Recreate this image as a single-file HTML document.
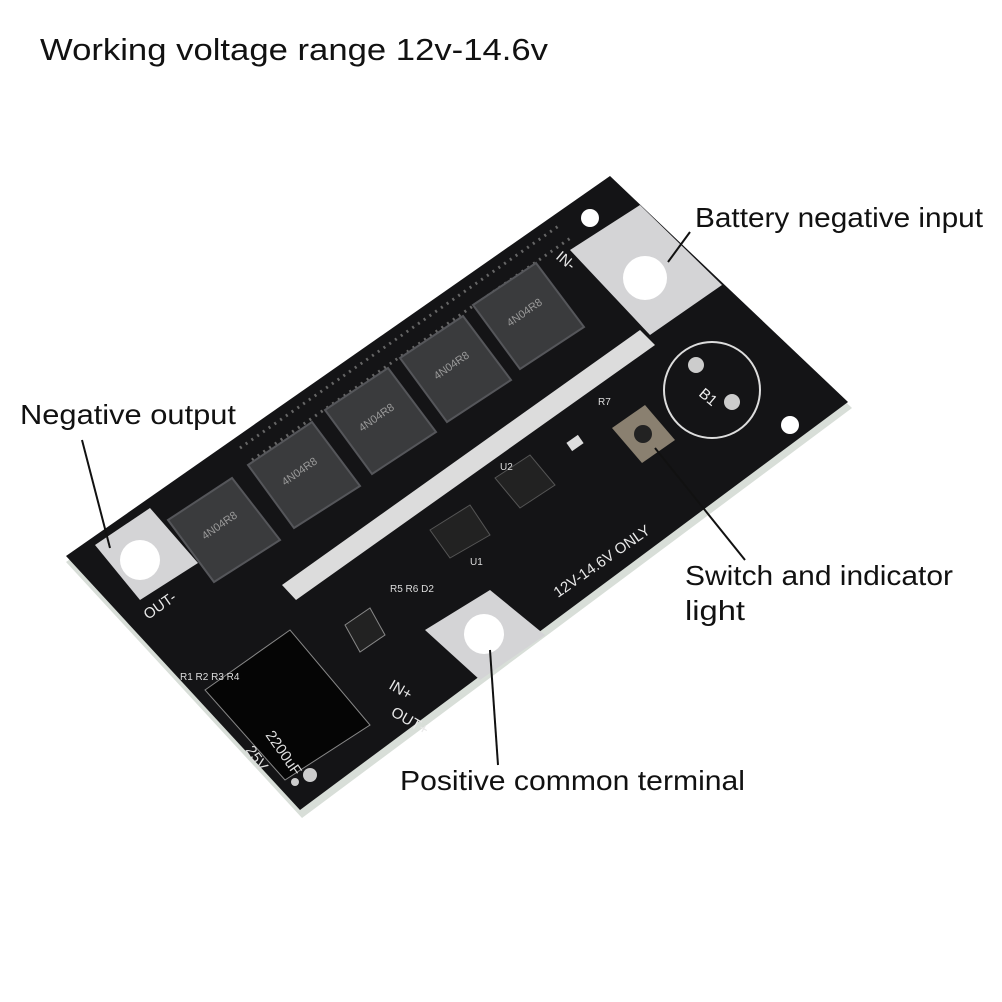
<!DOCTYPE html>
<html><head><meta charset="utf-8"><style>
html,body{margin:0;padding:0;background:#fff;}
svg{display:block;}
text{font-family:"Liberation Sans",sans-serif;}
</style></head><body>
<svg width="1002" height="1002" viewBox="0 0 1002 1002" xmlns="http://www.w3.org/2000/svg">
<rect width="1002" height="1002" fill="#fff"/>
<text x="40" y="60" font-size="31" fill="#111" textLength="508" lengthAdjust="spacingAndGlyphs">Working voltage range 12v-14.6v</text>
<polygon points="66,562 612,180 852,408 302,818" fill="#d8ded8"/>
<polygon points="66,556 610,176 848,402 300,810" fill="#141416"/>
<circle cx="590" cy="218" r="9" fill="#fff"/>
<circle cx="790" cy="425" r="9" fill="#fff"/>
<circle cx="310" cy="775" r="7" fill="#ccc"/>
<circle cx="295" cy="782" r="4" fill="#ccc"/>
<polygon points="570,250 640,205 722,285 650,335" fill="#d4d4d6"/>
<circle cx="645" cy="278" r="22" fill="#fff"/>
<polygon points="95,545 150,508 198,563 140,600" fill="#d4d4d6"/>
<circle cx="140" cy="560" r="20" fill="#fff"/>
<polygon points="425,630 490,590 545,635 480,680" fill="#d4d4d6"/>
<circle cx="484" cy="634" r="20" fill="#fff"/>
<polygon points="282,585 640,330 655,345 296,600" fill="#dcdcdc"/>
<line x1="240" y1="448" x2="560" y2="225" stroke="#666" stroke-width="3" stroke-dasharray="2 5"/>
<line x1="252" y1="460" x2="572" y2="237" stroke="#666" stroke-width="3" stroke-dasharray="2 5"/>
<g fill="#3a3b3d" stroke="#55565a" stroke-width="2">
<polygon points="168,520 232,478 280,540 214,582"/>
<polygon points="248,465 312,422 360,486 294,528"/>
<polygon points="325,410 388,368 436,432 372,474"/>
<polygon points="400,358 463,316 511,380 447,422"/>
<polygon points="473,305 536,263 584,327 520,369"/>
</g>
<g fill="#9a9a9a" font-size="11">
<text transform="translate(205,540) rotate(-35)">4N04R8</text>
<text transform="translate(285,486) rotate(-35)">4N04R8</text>
<text transform="translate(362,432) rotate(-35)">4N04R8</text>
<text transform="translate(437,380) rotate(-35)">4N04R8</text>
<text transform="translate(510,327) rotate(-35)">4N04R8</text>
</g>
<polygon points="205,690 290,630 370,725 285,780" fill="#050505" stroke="#888" stroke-width="1"/>
<text transform="translate(265,735) rotate(55)" fill="#ddd" font-size="15" font-family="Liberation Mono">2200uF</text>
<text transform="translate(245,750) rotate(55)" fill="#ddd" font-size="15" font-family="Liberation Mono">25V</text>
<circle cx="712" cy="390" r="48" fill="none" stroke="#ddd" stroke-width="2"/>
<circle cx="696" cy="365" r="8" fill="#ccc"/>
<circle cx="732" cy="402" r="8" fill="#ccc"/>
<text transform="translate(698,395) rotate(40)" fill="#eee" font-size="15">B1</text>
<polygon points="612,428 645,405 675,440 642,463" fill="#8a8070"/>
<circle cx="643" cy="434" r="9" fill="#222"/>
<rect x="568" y="438" width="14" height="10" fill="#ddd" transform="rotate(-35 575 443)"/>
<polygon points="495,478 530,455 555,485 520,508" fill="#222" stroke="#555"/>
<polygon points="430,530 470,505 490,535 450,558" fill="#222" stroke="#555"/>
<polygon points="345,625 370,608 385,635 360,652" fill="#222" stroke="#888"/>
<g fill="#e8e8e8" font-family="Liberation Mono" font-size="15">
<text transform="translate(555,258) rotate(40)">IN-</text>
<text transform="translate(148,620) rotate(-35)">OUT-</text>
<text transform="translate(388,688) rotate(30)">IN+</text>
<text transform="translate(390,715) rotate(30)">OUT+</text>
<text transform="translate(558,598) rotate(-35)">12V-14.6V ONLY</text>
</g>
<g fill="#ddd" font-size="10">
<text x="180" y="680">R1 R2 R3 R4</text>
<text x="390" y="592">R5 R6 D2</text>
<text x="598" y="405">R7</text>
<text x="500" y="470">U2</text>
<text x="470" y="565">U1</text>
</g>
<g stroke="#111" stroke-width="2" fill="none">
<line x1="690" y1="232" x2="668" y2="262"/>
<line x1="82" y1="440" x2="110" y2="548"/>
<line x1="745" y1="560" x2="655" y2="448"/>
<line x1="498" y1="765" x2="490" y2="650"/>
</g>
<g font-size="28" fill="#111">
<text x="695" y="227" textLength="288" lengthAdjust="spacingAndGlyphs">Battery negative input</text>
<text x="20" y="424" textLength="216" lengthAdjust="spacingAndGlyphs">Negative output</text>
<text x="685" y="585" textLength="268" lengthAdjust="spacingAndGlyphs">Switch and indicator</text>
<text x="685" y="620" textLength="60" lengthAdjust="spacingAndGlyphs">light</text>
<text x="400" y="790" textLength="345" lengthAdjust="spacingAndGlyphs">Positive common terminal</text>
</g>
</svg>
</body></html>
